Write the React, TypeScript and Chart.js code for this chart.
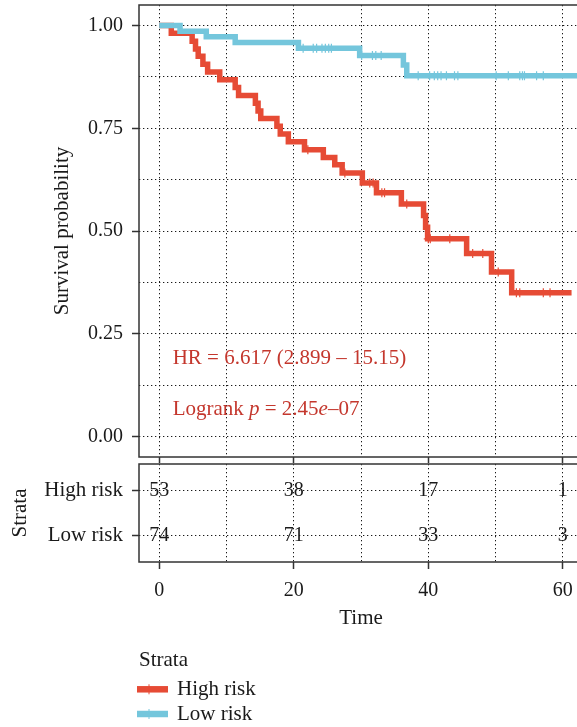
import React, { useEffect, useRef } from 'react';
import { Chart, registerables } from 'chart.js';

Chart.register(...registerables);

const FONT = '"Liberation Serif", "DejaVu Serif", serif';
const RED = '#E64B35';
const BLUE = '#74C6DC';
const INK = '#1a1a1a';
const FRAME = '#333333';
const GRID = 'rgba(0,0,0,0.9)';
const ANNOT = '#C4372D';

// ---- data ----
const strata = ['High risk', 'Low risk'];

const highRiskTimes = [0, 1.8, 4.9, 5.4, 5.8, 6.5, 7.2, 9.0, 11.3, 11.8, 14.3, 14.7, 15.1, 17.5, 18.0, 19.2, 21.6, 24.4, 26.1, 27.2, 30.2, 32.3, 36.0, 39.3, 39.6, 39.9, 45.7, 49.4, 52.4, 61.3];
const highRiskSurv = [1, 0.981, 0.962, 0.943, 0.925, 0.906, 0.887, 0.868, 0.849, 0.83, 0.811, 0.792, 0.774, 0.755, 0.736, 0.717, 0.698, 0.679, 0.661, 0.641, 0.617, 0.593, 0.566, 0.538, 0.509, 0.481, 0.445, 0.4, 0.35, 0.35];

const lowRiskTimes = [0, 3.1, 7.0, 11.3, 20.7, 29.8, 36.3, 36.8, 62.5];
const lowRiskSurv = [1, 0.986, 0.973, 0.959, 0.945, 0.927, 0.904, 0.878, 0.878];

const highRiskCensor = [22.1, 27.6, 31.3, 31.8, 33.1, 33.5, 36.8, 40.0, 40.3, 43.2, 46.6, 48.1, 50.4, 53.1, 53.6, 57.1, 58.1];
const lowRiskCensor = [21.4, 22.9, 23.4, 24.2, 24.7, 25.2, 25.6, 30.1, 31.7, 32.2, 33.0, 38.5, 40.2, 40.9, 41.4, 41.9, 42.7, 43.9, 44.4, 50.1, 51.9, 53.6, 54.0, 54.3, 56.1, 57.1];

const riskTableTimes = [0, 20, 40, 60];
const highRiskAtRisk = [53, 38, 17, 1];
const lowRiskAtRisk = [74, 71, 33, 3];

const timeTicks = [0, 20, 40, 60];
const timeGrid = [0, 10, 20, 30, 40, 50, 60];
const survTicks = [0, 0.125, 0.25, 0.375, 0.5, 0.625, 0.75, 0.875, 1];

const hrText = 'HR = 6.617 (2.899 – 15.15)';
const pRuns: [string, boolean][] = [['Logrank ', false], ['p', true], [' = 2.45', false], ['e', true], ['–07', false]];
const hrAnchor = { x: 2, y: 0.19 };
const pAnchor = { x: 2, y: 0.066 };

// ---- helpers ----
function stepPoints(times: number[], surv: number[]) {
  const pts = [{ x: times[0], y: surv[0] }];
  for (let i = 1; i < times.length; i++) {
    pts.push({ x: times[i], y: surv[i - 1] });
    pts.push({ x: times[i], y: surv[i] });
  }
  return pts;
}
function survAt(times: number[], surv: number[], t: number) {
  let s = surv[0];
  for (let i = 0; i < times.length; i++) if (times[i] <= t) s = surv[i];
  return s;
}
function drawRuns(ctx: CanvasRenderingContext2D, x: number, y: number, runs: [string, boolean][], size: number) {
  let cx = x;
  for (const [text, italic] of runs) {
    ctx.font = `${italic ? 'italic ' : ''}${size}px ${FONT}`;
    ctx.fillText(text, cx, y);
    cx += ctx.measureText(text).width;
  }
}
const isMajorSurv = (v: number) => Math.abs(v * 4 - Math.round(v * 4)) < 1e-6;
const TRANSPARENT = 'rgba(0,0,0,0)';

const mainDecor = {
  id: 'mainDecor',
  afterDraw(chart: any) {
    const { ctx, chartArea: a, scales } = chart;
    ctx.save();
    ctx.setLineDash([]);
    ctx.strokeStyle = FRAME;
    ctx.lineWidth = 1.5;
    ctx.strokeRect(a.left, a.top, a.right - a.left, a.bottom - a.top);

    ctx.fillStyle = INK;
    ctx.font = `21px ${FONT}`;
    ctx.textAlign = 'center';
    ctx.textBaseline = 'middle';
    ctx.save();
    ctx.translate(62, (a.top + a.bottom) / 2);
    ctx.rotate(-Math.PI / 2);
    ctx.fillText('Survival probability', 0, 0);
    ctx.restore();

    ctx.fillStyle = ANNOT;
    ctx.textAlign = 'left';
    drawRuns(ctx, scales.x.getPixelForValue(hrAnchor.x), scales.y.getPixelForValue(hrAnchor.y), [[hrText, false]], 21);
    drawRuns(ctx, scales.x.getPixelForValue(pAnchor.x), scales.y.getPixelForValue(pAnchor.y), pRuns, 21);
    ctx.restore();
  },
};

const tableDecor = {
  id: 'tableDecor',
  afterDatasetsDraw(chart: any) {
    const { ctx } = chart;
    ctx.save();
    ctx.fillStyle = INK;
    ctx.font = `20px ${FONT}`;
    ctx.textAlign = 'center';
    ctx.textBaseline = 'middle';
    chart.data.datasets.forEach((ds: any, di: number) => {
      const meta = chart.getDatasetMeta(di);
      meta.data.forEach((el: any, i: number) => {
        ctx.fillText(String(ds.data[i].n), el.x, el.y);
      });
    });
    ctx.restore();
  },
  afterDraw(chart: any) {
    const { ctx, chartArea: a } = chart;
    ctx.save();
    ctx.setLineDash([]);
    ctx.strokeStyle = FRAME;
    ctx.lineWidth = 1.5;
    ctx.strokeRect(a.left, a.top, a.right - a.left, a.bottom - a.top);

    ctx.fillStyle = INK;
    ctx.font = `21px ${FONT}`;
    ctx.textAlign = 'center';
    ctx.textBaseline = 'middle';
    ctx.save();
    ctx.translate(20, (a.top + a.bottom) / 2);
    ctx.rotate(-Math.PI / 2);
    ctx.fillText('Strata', 0, 0);
    ctx.restore();

    ctx.fillText('Time', (a.left + a.right) / 2, a.bottom + 56);

    // legend
    const lx = 139;
    const ly = a.bottom + 98;
    ctx.textAlign = 'left';
    ctx.fillText('Strata', lx, ly);
    const colors = [RED, BLUE];
    strata.forEach((name, i) => {
      const y = ly + 29.3 + i * 24.7;
      ctx.strokeStyle = colors[i];
      ctx.lineWidth = 6.5;
      ctx.beginPath();
      ctx.moveTo(lx - 2, y);
      ctx.lineTo(lx + 29, y);
      ctx.stroke();
      ctx.lineWidth = 1;
      ctx.beginPath();
      ctx.moveTo(lx + 10, y - 5);
      ctx.lineTo(lx + 10, y + 5);
      ctx.stroke();
      ctx.fillStyle = INK;
      ctx.fillText(name, lx + 38, y);
    });
    ctx.restore();
  },
};

export default function App() {
  const mainRef = useRef<HTMLCanvasElement>(null);
  const tableRef = useRef<HTMLCanvasElement>(null);

  useEffect(() => {
    Chart.defaults.font.family = FONT;

    const xGridTicks = (s: any) => { s.ticks = timeGrid.map((v) => ({ value: v })); };
    const tickCol = (ctx: any) => (ctx.tick && timeTicks.includes(ctx.tick.value) ? FRAME : TRANSPARENT);

    const main = new Chart(mainRef.current!, {
      type: 'line',
      data: {
        datasets: [
          {
            label: 'Low risk censor',
            data: lowRiskCensor.map((t) => ({ x: t, y: survAt(lowRiskTimes, lowRiskSurv, t) })),
            showLine: false,
            pointStyle: 'cross',
            pointRadius: 4.5,
            pointBorderWidth: 1.2,
            borderColor: BLUE,
            backgroundColor: BLUE,
            order: 0,
          },
          {
            label: strata[1],
            data: stepPoints(lowRiskTimes, lowRiskSurv),
            borderColor: BLUE,
            borderWidth: 5.5,
            pointRadius: 0,
            fill: false,
            tension: 0,
            borderJoinStyle: 'miter',
            order: 1,
          },
          {
            label: 'High risk censor',
            data: highRiskCensor.map((t) => ({ x: t, y: survAt(highRiskTimes, highRiskSurv, t) })),
            showLine: false,
            pointStyle: 'cross',
            pointRadius: 4.5,
            pointBorderWidth: 1.2,
            borderColor: RED,
            backgroundColor: RED,
            order: 2,
          },
          {
            label: strata[0],
            data: stepPoints(highRiskTimes, highRiskSurv),
            borderColor: RED,
            borderWidth: 5.5,
            pointRadius: 0,
            fill: false,
            tension: 0,
            borderJoinStyle: 'miter',
            order: 3,
          },
        ],
      } as any,
      options: {
        animation: false,
        responsive: false,
        devicePixelRatio: 1,
        layout: { padding: { left: 0, top: 5, right: 17, bottom: 0 }, autoPadding: false } as any,
        plugins: { legend: { display: false }, tooltip: { enabled: false } },
        scales: {
          x: {
            type: 'linear',
            bounds: 'data',
            min: -3,
            max: 63,
            afterBuildTicks: xGridTicks,
            ticks: { display: false },
            grid: { color: GRID, lineWidth: 1, tickLength: 6, tickWidth: 1.5, tickColor: tickCol },
            border: { display: false, dash: [1.3, 2.7] },
            afterFit: (s: any) => { s.height = 6; s.paddingLeft = 0; s.paddingRight = 0; },
          },
          y: {
            type: 'linear',
            bounds: 'data',
            min: -0.05,
            max: 1.05,
            afterBuildTicks: (s: any) => { s.ticks = survTicks.map((v) => ({ value: v })); },
            ticks: {
              autoSkip: false,
              padding: 9,
              color: INK,
              font: { family: FONT, size: 20 },
              callback: (v: any) => (isMajorSurv(Number(v)) ? Number(v).toFixed(2) : ''),
            },
            grid: {
              color: GRID,
              lineWidth: 1,
              tickLength: 7,
              tickWidth: 1.5,
              tickColor: (ctx: any) => (ctx.tick && isMajorSurv(ctx.tick.value) ? FRAME : TRANSPARENT),
            },
            border: { display: false, dash: [1.3, 2.7] },
            afterFit: (s: any) => { s.width = 139; s.paddingTop = 0; s.paddingBottom = 0; },
          },
        },
      } as any,
      plugins: [mainDecor],
    });

    const table = new Chart(tableRef.current!, {
      type: 'scatter',
      data: {
        datasets: [
          {
            label: strata[0],
            data: riskTableTimes.map((t, i) => ({ x: t, y: 2, n: highRiskAtRisk[i] })),
            pointRadius: 0,
          },
          {
            label: strata[1],
            data: riskTableTimes.map((t, i) => ({ x: t, y: 1, n: lowRiskAtRisk[i] })),
            pointRadius: 0,
          },
        ],
      } as any,
      options: {
        animation: false,
        responsive: false,
        devicePixelRatio: 1,
        layout: { padding: { left: 0, top: 1, right: 17, bottom: 125 }, autoPadding: false } as any,
        plugins: { legend: { display: false }, tooltip: { enabled: false } },
        scales: {
          x: {
            type: 'linear',
            bounds: 'data',
            min: -3,
            max: 63,
            afterBuildTicks: xGridTicks,
            ticks: {
              autoSkip: false,
              maxRotation: 0,
              padding: 10,
              color: INK,
              font: { family: FONT, size: 20 },
              callback: (v: any) => (timeTicks.includes(Number(v)) ? String(v) : ''),
            },
            grid: { color: GRID, lineWidth: 1, tickLength: 7, tickWidth: 1.5, tickColor: tickCol },
            border: { display: false, dash: [1.3, 2.7] },
            afterFit: (s: any) => { s.height = 40; s.paddingLeft = 0; s.paddingRight = 0; },
          },
          y: {
            type: 'linear',
            bounds: 'data',
            min: 0.4,
            max: 2.6,
            afterBuildTicks: (s: any) => { s.ticks = [{ value: 1 }, { value: 2 }]; },
            ticks: {
              autoSkip: false,
              padding: 9,
              color: INK,
              font: { family: FONT, size: 21 },
              callback: (v: any) => (Number(v) === 2 ? strata[0] : strata[1]),
            },
            grid: { color: GRID, lineWidth: 1, tickLength: 7, tickWidth: 1.5, tickColor: FRAME },
            border: { display: false, dash: [1.3, 2.7] },
            afterFit: (s: any) => { s.width = 139; s.paddingTop = 0; s.paddingBottom = 0; },
          },
        },
      } as any,
      plugins: [tableDecor],
    });

    return () => {
      main.destroy();
      table.destroy();
    };
  }, []);

  return (
    <div style={{ position: 'fixed', left: 0, top: 0, width: 577, height: 727, overflow: 'hidden', background: '#fff' }}>
      <canvas ref={mainRef} width={600} height={463} style={{ position: 'absolute', left: 0, top: 0, width: 600, height: 463 }} />
      <canvas ref={tableRef} width={600} height={264} style={{ position: 'absolute', left: 0, top: 463, width: 600, height: 264 }} />
    </div>
  );
}
